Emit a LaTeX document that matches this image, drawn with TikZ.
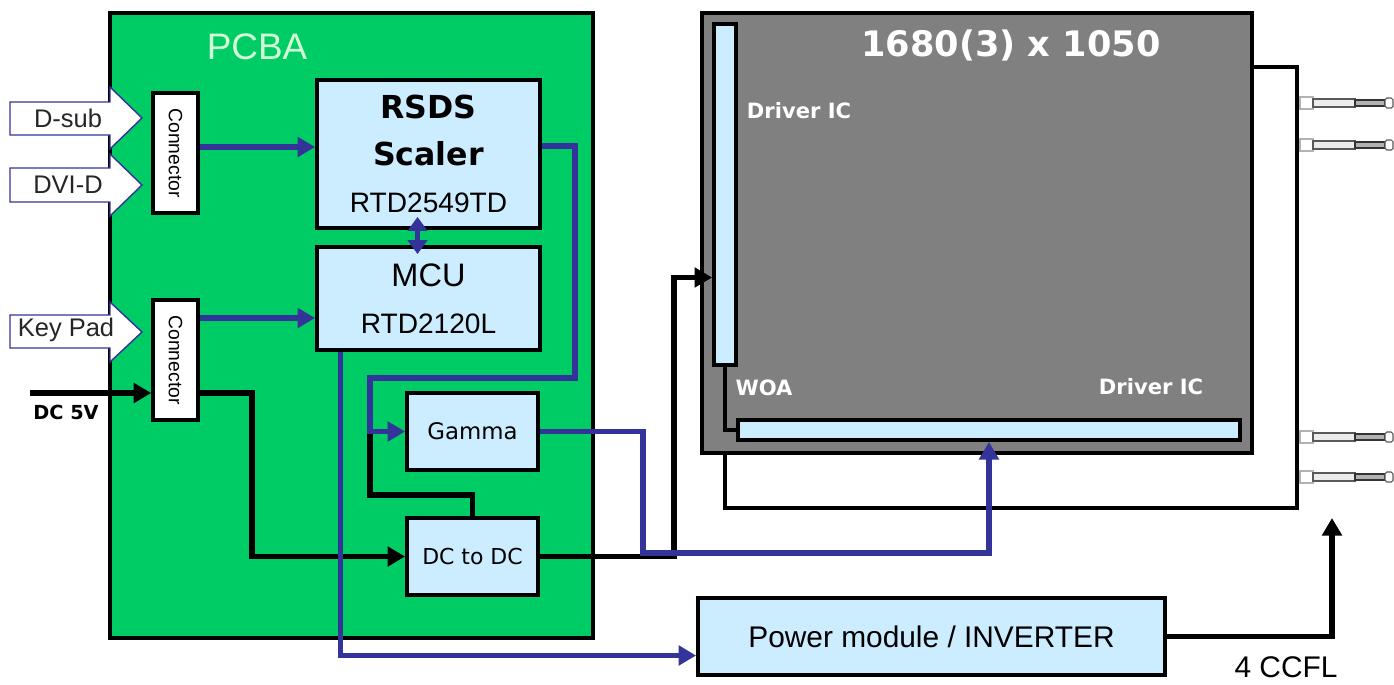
\documentclass[tikz,border=0pt]{standalone}
\usepackage{fontspec}
\usepackage{graphicx}
\setmainfont{Liberation Sans}
\newfontfamily\djv{DejaVu Sans}
\usetikzlibrary{arrows.meta,positioning}

\definecolor{pcbgreen}{RGB}{0,204,102}
\definecolor{pcbtext}{RGB}{210,255,215}
\definecolor{chipblue}{RGB}{204,236,255}
\definecolor{busblue}{RGB}{51,51,153}
\definecolor{panelgray}{RGB}{128,128,128}

\begin{document}
\begin{tikzpicture}[
  x=0.02cm, y=-0.02cm,
  chip/.style={rectangle, draw, line width=2.2pt, fill=chipblue, inner sep=0pt, align=center},
  conbox/.style={rectangle, draw, line width=2pt, fill=white, inner sep=0pt,
    font=\fontsize{11}{13}\selectfont},
  inshape/.style={fill=white, draw=busblue, line width=0.8pt},
  intext/.style={font=\fontsize{14.5}{16}\selectfont, text=black!85},
  paneltext/.style={font=\djv\bfseries\fontsize{12}{14}\selectfont, text=white},
  busline/.style={draw=busblue, line width=3pt},
  busarrow/.style={busline, -{Triangle[length=10pt,width=11pt]}},
  pwrline/.style={line width=3.4pt},
  pwrarrow/.style={pwrline, -{Triangle[length=10pt,width=11pt]}}
]
  \fill[white] (0,0) rectangle (1394,684);
  \useasboundingbox (0,0) rectangle (1394,684);

  % board
  \node[rectangle, draw, line width=2.4pt, fill=pcbgreen, inner sep=0pt,
    minimum width=9.66cm, minimum height=12.5cm] (pcba) at (351.5,325.5) {};
  \node[font=\fontsize{21}{24}\selectfont, text=pcbtext] (pcbatxt) at (257,47) {PCBA};

  % inputs
  \filldraw[inshape] (10,102) -- (110,102) -- (110,87) -- (142,118) -- (110,149) -- (110,135) -- (10,135) -- cycle;
  \node[intext] (dsub) at (68,118) {D-sub};
  \filldraw[inshape] (10,168) -- (110,168) -- (110,154) -- (142,185) -- (110,216) -- (110,202) -- (10,202) -- cycle;
  \node[intext] (dvid) at (68,185) {DVI-D};
  \filldraw[inshape] (10,315) -- (110,315) -- (110,302) -- (142,332) -- (110,362) -- (110,348) -- (10,348) -- cycle;
  \node[intext] (keypad) at (66,330) {Key Pad};

  \node[conbox, minimum width=0.9cm, minimum height=2.4cm] (conn1) at (175.5,153) {\rotatebox{-90}{Connector}};
  \node[conbox, minimum width=0.9cm, minimum height=2.4cm] (conn2) at (175.5,360) {\rotatebox{-90}{Connector}};

  % chips
  \node[chip, minimum width=4.46cm, minimum height=2.96cm, font=\fontsize{18}{26.6}\selectfont] (scaler) at (428.5,154)
    {{\djv\bfseries RSDS}\\{\djv\bfseries Scaler}\\[0.6pt]{\fontsize{16}{18}\selectfont RTD2549TD}};
  \node[chip, minimum width=4.46cm, minimum height=2.06cm, font=\fontsize{18.5}{26.6}\selectfont] (mcu) at (428.5,298.5)
    {MCU\\{\fontsize{16}{18}\selectfont RTD2120L}};
  \node[chip, minimum width=2.62cm, minimum height=1.54cm, font=\djv\fontsize{13}{15}\selectfont] (gamma) at (472.5,431.5) {Gamma};
  \node[chip, minimum width=2.62cm, minimum height=1.54cm, font=\djv\fontsize{12.5}{15}\selectfont] (dcdc) at (472.5,556.5) {DC to DC};
  \node[chip, minimum width=9.34cm, minimum height=1.54cm, font=\fontsize{17}{20}\selectfont] (power) at (931.5,636.5) {Power module / INVERTER};

  % panel
  \node[rectangle, draw, line width=2pt, fill=white, minimum width=11.44cm, minimum height=8.82cm] (frame) at (1011,287.5) {};
  \node[rectangle, draw, line width=2.4pt, fill=panelgray, minimum width=11cm, minimum height=8.8cm] (panel) at (977,233) {};
  \node[chip, minimum width=0.44cm, minimum height=6.82cm] (drvl) at (725,194.5) {};
  \node[chip, minimum width=10.04cm, minimum height=0.4cm] (drvb) at (989,430) {};
  \node[font=\djv\bfseries\fontsize{20}{24}\selectfont, text=white] (res) at (1011,45) {1680(3) x 1050};
  \node[paneltext] (drvltxt) at (799,111) {Driver IC};
  \node[paneltext] (woa) at (764,388) {WOA};
  \node[paneltext] (drvbtxt) at (1151,387) {Driver IC};
  \draw[line width=1.8pt] (drvl.south) |- (drvb.west);

  % lamps
  \foreach \ly in {103,145,437,477} {
    \filldraw[fill=white, draw=gray!60, line width=0.6pt] (1300,\ly-6) rectangle (1313,\ly+6);
    \filldraw[fill=gray!15, draw=gray!70!black, line width=0.6pt] (1313,\ly-4) rectangle (1355,\ly+4);
    \filldraw[fill=gray!60, draw=black!80, line width=0.6pt] (1355,\ly-3) rectangle (1385,\ly+3);
    \filldraw[fill=white, draw=gray!70!black, line width=0.6pt, rounded corners=1pt] (1385,\ly-5) rectangle (1393,\ly+5);
  }

  % connection points
  \coordinate (vidin) at ([yshift=0.14cm]scaler.west);
  \coordinate (keyin) at ([yshift=-0.39cm]mcu.west);
  \coordinate (dcin) at (30,393);
  \coordinate (lampin) at (1332,518);

  % power lines
  \draw[pwrarrow] (dcin) -- (dcin -| conn2.west);
  \draw[pwrarrow] (dcin -| conn2.east) -- ++(52,0) |- (dcdc.west);
  \draw[pwrline] (dcdc.north) |- (370,495) -- (370,432);
  \draw[pwrarrow] (dcdc.east) -- ++(134,0) |- ([yshift=-1.66cm]drvl.west);
  \draw[pwrarrow] (power.east) -| (lampin);

  % signal lines
  \draw[busarrow] (conn1.east |- vidin) -- (vidin);
  \draw[busarrow] (conn2.east |- keyin) -- (keyin);
  \draw[busline, {Triangle[length=8pt,width=11pt]}-{Triangle[length=8pt,width=11pt]}]
    ([xshift=-0.22cm,yshift=0.26cm]scaler.south) -- ([xshift=-0.22cm,yshift=-0.18cm]mcu.north);
  \draw[busarrow] ([yshift=0.16cm]scaler.east) -- ++(33,0) |- (370,378) |- (gamma.west);
  \draw[busarrow] ([xshift=-1.76cm]mcu.south) |- ([yshift=-0.38cm]power.west);
  \draw[busarrow] (gamma.east) -| (643,553) -| (drvb.south);

  \node[font=\djv\bfseries\fontsize{11}{13}\selectfont] (dc5v) at (66,412) {DC 5V};
  \node[font=\fontsize{17}{20}\selectfont] (ccfl) at (1286,667) {4 CCFL};
\end{tikzpicture}
\end{document}
